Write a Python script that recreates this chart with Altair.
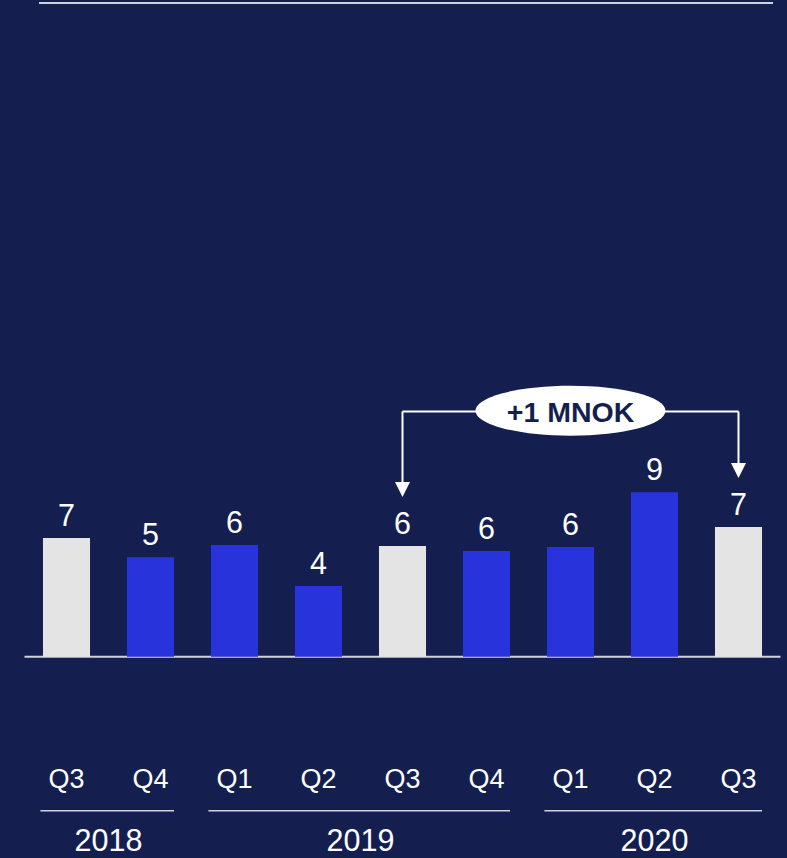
import altair as alt
import pandas as pd

# ---- data ----
quarters = ["Q3", "Q4", "Q1", "Q2", "Q3", "Q4", "Q1", "Q2", "Q3"]
years = ["2018", "2018", "2019", "2019", "2019", "2019", "2020", "2020", "2020"]
values = [6.54, 5.47, 6.15, 3.89, 6.10, 5.82, 6.04, 9.05, 7.14]
value_labels = ["7", "5", "6", "4", "6", "6", "6", "9", "7"]
kinds = ["compare", "regular", "regular", "regular", "compare",
         "regular", "regular", "regular", "compare"]
change_label = "+1 MNOK"
change_from = 4   # index of Q3 2019
change_to = 8     # index of Q3 2020

# ---- styling ----
BG = "#151f4f"
BLUE = "#2833dc"
GRAY = "#e4e4e4"
LINE = "#d2d2da"
WHITE = "#ffffff"
FONT = "Liberation Sans"
HALF_BAR = 0.28

bars_df = pd.DataFrame({
    "idx": list(range(len(quarters))),
    "quarter": quarters,
    "year": years,
    "value": values,
    "label": value_labels,
    "kind": kinds,
})
bars_df["x0"] = bars_df["idx"] - HALF_BAR
bars_df["x1"] = bars_df["idx"] + HALF_BAR

year_df = bars_df.groupby("year", sort=False)["idx"].agg(["min", "max"]).reset_index()
year_df["x0"] = year_df["min"] - HALF_BAR - 0.03
year_df["x1"] = year_df["max"] + HALF_BAR
year_df["mid"] = (year_df["min"] + year_df["max"]) / 2

ANN_Y = 13.5
ARROW_GAP = 2.7   # arrow tip above bar (value units)
ARROW_HALF = 0.41
ends = bars_df.loc[[change_from, change_to]].copy()
ends["tip_center"] = ends["value"] + ARROW_GAP + ARROW_HALF
ends["top"] = ANN_Y
ann_df = pd.DataFrame({
    "x0": [change_from], "x1": [change_to],
    "mid": [(change_from + change_to) / 2], "label": [change_label],
})

xs = alt.Scale(domain=[-0.5, len(quarters) - 0.5], nice=False, zero=False, padding=0)
ys = alt.Scale(domain=[0, 36], nice=False, zero=False, padding=0)

base = alt.Chart(bars_df)

top_line = alt.Chart(pd.DataFrame({"a": [0]})).mark_rule(color=LINE, strokeWidth=2).encode(
    y=alt.datum(36, scale=ys), x=alt.value(14.5), x2=alt.value(748.5))

baseline = alt.Chart(pd.DataFrame({"a": [0]})).mark_rule(color=LINE, strokeWidth=2).encode(
    y=alt.datum(0, scale=ys))

bars = base.mark_bar().encode(
    x=alt.X("x0:Q", scale=xs, axis=None),
    x2="x1:Q",
    y=alt.Y("value:Q", scale=ys, axis=None),
    y2=alt.datum(0),
    color=alt.Color("kind:N", scale=alt.Scale(domain=["compare", "regular"], range=[GRAY, BLUE]), legend=None),
)

val_text = base.mark_text(font=FONT, fontSize=30.5, color=WHITE, baseline="alphabetic", dy=-12).encode(
    x=alt.X("idx:Q", scale=xs), y=alt.Y("value:Q", scale=ys), text="label:N")

q_text = base.mark_text(font=FONT, fontSize=27, color=WHITE, baseline="alphabetic").encode(
    x=alt.X("idx:Q", scale=xs), y=alt.datum(-7.23), text="quarter:N")

year_lines = alt.Chart(year_df).mark_rule(color=LINE, strokeWidth=1.5).encode(
    x=alt.X("x0:Q", scale=xs), x2="x1:Q", y=alt.datum(-8.48))

year_text = alt.Chart(year_df).mark_text(font=FONT, fontSize=30.5, color=WHITE, baseline="alphabetic").encode(
    x=alt.X("mid:Q", scale=xs), y=alt.datum(-10.72), text="year:N")

ann_h = alt.Chart(ann_df).mark_rule(color=WHITE, strokeWidth=2).encode(
    x=alt.X("x0:Q", scale=xs), x2="x1:Q", y=alt.datum(ANN_Y))

ann_v = alt.Chart(ends).mark_rule(color=WHITE, strokeWidth=2).encode(
    x=alt.X("idx:Q", scale=xs), y=alt.Y("top:Q", scale=ys), y2="tip_center:Q")

arrows = alt.Chart(ends).mark_point(
    shape="M-1,-1L1,-1L0,1Z", filled=True, fill=WHITE, opacity=1, size=225, strokeWidth=0
).encode(x=alt.X("idx:Q", scale=xs), y=alt.Y("tip_center:Q", scale=ys))

ellipse = alt.Chart(ann_df).mark_point(
    shape="M-1,0A1,0.263,0,1,0,1,0A1,0.263,0,1,0,-1,0Z",
    filled=True, fill=WHITE, opacity=1, size=36100, strokeWidth=0
).encode(x=alt.X("mid:Q", scale=xs), y=alt.datum(13.55))

ann_text = alt.Chart(ann_df).mark_text(
    font=FONT, fontSize=28.5, fontWeight="bold", color=BG, baseline="alphabetic", dy=10
).encode(x=alt.X("mid:Q", scale=xs), y=alt.datum(ANN_Y), text="label:N")

chart = alt.layer(
    top_line, baseline, bars, val_text, q_text, year_lines, year_text,
    ann_h, ann_v, arrows, ellipse, ann_text
).properties(
    width=756, height=653.7,
    padding={"left": 24.5, "top": 3, "right": 6.5, "bottom": 201.3},
    autosize="none",
    background=BG,
).configure_view(stroke=None).configure_axis(disable=True)

chart.save("out.html", embed_options={"renderer": "svg", "actions": False})
